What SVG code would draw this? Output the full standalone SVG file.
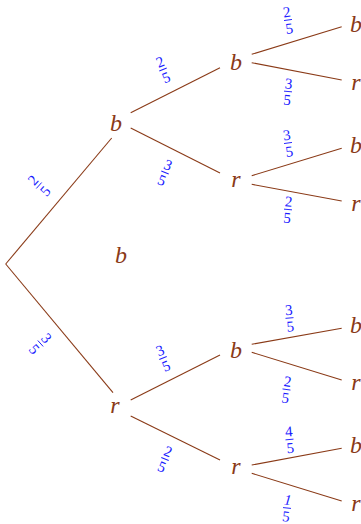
<svg xmlns="http://www.w3.org/2000/svg" width="361" height="524" viewBox="0 0 361 524">
<style>
.n{font-family:"Liberation Serif","Times New Roman",serif;font-style:italic;font-size:24px;fill:#8a3a17;text-anchor:middle}
.e{stroke:#8a3a17;stroke-width:1.1;fill:none}
.f{font-family:"Liberation Serif","Times New Roman",serif;font-size:15px;fill:#1a1aff;text-anchor:middle}
.bar{stroke:#1a1aff;stroke-width:0.9}
</style>
<rect width="361" height="524" fill="#fff"/>
<g id="edges">
<line class="e" x1="5.7" y1="264" x2="111.7" y2="138"/>
<line class="e" x1="5.7" y1="264" x2="113" y2="392.7"/>
<line class="e" x1="130.7" y1="112.7" x2="220" y2="67.7"/>
<line class="e" x1="130.7" y1="128" x2="220" y2="173"/>
<line class="e" x1="130.7" y1="400" x2="220" y2="355"/>
<line class="e" x1="130.7" y1="416" x2="220" y2="460"/>
<line class="e" x1="251.7" y1="54.3" x2="341.7" y2="26.7"/>
<line class="e" x1="251.7" y1="62.7" x2="341.7" y2="80"/>
<line class="e" x1="251.7" y1="175.7" x2="341.7" y2="148.3"/>
<line class="e" x1="251.7" y1="184.3" x2="341.7" y2="201"/>
<line class="e" x1="251.7" y1="344.3" x2="341.7" y2="328.3"/>
<line class="e" x1="251.7" y1="352.3" x2="341.7" y2="380"/>
<line class="e" x1="251.7" y1="465" x2="341.7" y2="448.3"/>
<line class="e" x1="251.7" y1="473.3" x2="341.7" y2="501"/>
</g>
<g id="labels">
<g transform="translate(39,185.5) rotate(-48)"><text class="f" y="-3">2</text><line class="bar" x1="-4" x2="4" y1="0" y2="0"/><text class="f" y="13.5">5</text></g>
<g transform="translate(40.5,343.5) rotate(48)"><text class="f" y="-3">3</text><line class="bar" x1="-4" x2="4" y1="0" y2="0"/><text class="f" y="13.5">5</text></g>
<g transform="translate(163,69.5) rotate(-22)"><text class="f" y="-3">2</text><line class="bar" x1="-4" x2="4" y1="0" y2="0"/><text class="f" y="13.5">5</text></g>
<g transform="translate(165,172.5) rotate(22)"><text class="f" y="-3">3</text><line class="bar" x1="-4" x2="4" y1="0" y2="0"/><text class="f" y="13.5">5</text></g>
<g transform="translate(163,358) rotate(-22)"><text class="f" y="-3">3</text><line class="bar" x1="-4" x2="4" y1="0" y2="0"/><text class="f" y="13.5">5</text></g>
<g transform="translate(165,459) rotate(22)"><text class="f" y="-3">2</text><line class="bar" x1="-4" x2="4" y1="0" y2="0"/><text class="f" y="13.5">5</text></g>
<g transform="translate(288,20) rotate(-8)"><text class="f" y="-3">2</text><line class="bar" x1="-4" x2="4" y1="0" y2="0"/><text class="f" y="13.5">5</text></g>
<g transform="translate(288,91.5) rotate(5)"><text class="f" y="-3">3</text><line class="bar" x1="-4" x2="4" y1="0" y2="0"/><text class="f" y="13.5">5</text></g>
<g transform="translate(288,143) rotate(-8)"><text class="f" y="-3">3</text><line class="bar" x1="-4" x2="4" y1="0" y2="0"/><text class="f" y="13.5">5</text></g>
<g transform="translate(288,209.5) rotate(5)"><text class="f" y="-3">2</text><line class="bar" x1="-4" x2="4" y1="0" y2="0"/><text class="f" y="13.5">5</text></g>
<g transform="translate(289.5,318) rotate(-5)"><text class="f" y="-3">3</text><line class="bar" x1="-4" x2="4" y1="0" y2="0"/><text class="f" y="13.5">5</text></g>
<g transform="translate(286.5,389.5) rotate(8)"><text class="f" y="-3">2</text><line class="bar" x1="-4" x2="4" y1="0" y2="0"/><text class="f" y="13.5">5</text></g>
<g transform="translate(289.5,439.5) rotate(-5)"><text class="f" y="-3">4</text><line class="bar" x1="-4" x2="4" y1="0" y2="0"/><text class="f" y="13.5">5</text></g>
<g transform="translate(287,508) rotate(6)"><text class="f" y="-3" font-style="italic">1</text><line class="bar" x1="-4" x2="4" y1="0" y2="0"/><text class="f" y="13.5">5</text></g>
</g>
<g id="n-b1"><text class="n" x="116" y="131">b</text></g>
<g id="n-r1"><text class="n" x="115" y="413">r</text></g>
<g id="n-mid"><text class="n" x="121" y="263">b</text></g>
<g id="n-b2a"><text class="n" x="236" y="70">b</text></g>
<g id="n-r2a"><text class="n" x="236" y="187">r</text></g>
<g id="n-b2b"><text class="n" x="236" y="358">b</text></g>
<g id="n-r2b"><text class="n" x="236" y="474">r</text></g>
<g id="n-b3a"><text class="n" x="356" y="32">b</text></g>
<g id="n-r3a"><text class="n" x="356" y="90">r</text></g>
<g id="n-b3b"><text class="n" x="356" y="153">b</text></g>
<g id="n-r3b"><text class="n" x="356" y="210.7">r</text></g>
<g id="n-b3c"><text class="n" x="356" y="333">b</text></g>
<g id="n-r3c"><text class="n" x="356" y="390">r</text></g>
<g id="n-b3d"><text class="n" x="356" y="453">b</text></g>
<g id="n-r3d"><text class="n" x="356" y="510.7">r</text></g>
</svg>
